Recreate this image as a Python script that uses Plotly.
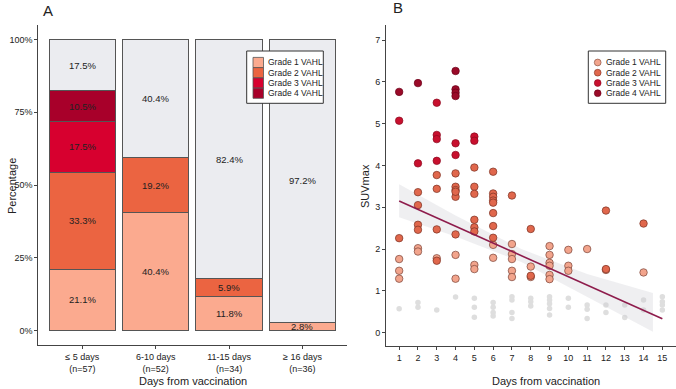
import plotly.graph_objects as go

# ---------------- Panel A data ----------------
categories = ["≤ 5 days<br>(n=57)", "6-10 days<br>(n=52)", "11-15 days<br>(n=34)", "≥ 16 days<br>(n=36)"]
grade1_pct = [21.1, 40.4, 11.8, 2.8]
grade2_pct = [33.3, 19.2, 5.9, 0.0]
grade3_pct = [17.5, 0.0, 0.0, 0.0]
grade4_pct = [10.5, 0.0, 0.0, 0.0]
none_pct = [17.5, 40.4, 82.4, 97.2]
pct_ticks = [0, 25, 50, 75, 100]
pct_labels = ["0%", "25%", "50%", "75%", "100%"]
legend_names = ["Grade 1 VAHL", "Grade 2 VAHL", "Grade 3 VAHL", "Grade 4 VAHL"]

# ---------------- Panel B data ----------------
g1_x = [1, 1, 1, 2, 2, 3, 4, 4, 5, 5, 6, 6, 7, 7, 7, 7, 7, 8, 8, 9, 9, 9, 9, 9, 9, 10, 10, 10, 11, 12, 14]
g1_y = [1.76, 1.48, 1.29, 2.02, 1.94, 1.78, 1.86, 1.29, 1.62, 1.52, 2.10, 1.79, 2.12, 1.88, 1.76, 1.48, 1.33,
        1.58, 1.33, 2.07, 1.86, 1.67, 1.60, 1.38, 1.28, 1.98, 1.60, 1.48, 2.00, 1.50, 1.44]
g2_x = [1, 2, 2, 2, 2, 3, 3, 3, 3, 4, 4, 4, 4, 4, 4, 5, 5, 5, 5, 5, 5, 6, 6, 6, 6, 6, 6, 6, 6, 7, 8, 8, 12, 12, 14]
g2_y = [2.26, 3.36, 3.05, 2.58, 2.46, 3.77, 3.44, 2.47, 1.72, 3.81, 3.49, 3.41, 3.25, 2.35, 3.37, 3.95, 3.49, 3.32,
        2.70, 2.52, 2.42, 3.85, 3.33, 3.25, 3.16, 3.11, 2.86, 2.55, 2.27, 3.28, 2.48, 1.36, 2.92, 1.52, 2.61]
g3_x = [1, 2, 3, 3, 3, 3, 4, 4, 5, 5]
g3_y = [5.07, 4.05, 5.50, 4.73, 4.63, 4.11, 4.53, 4.25, 4.69, 4.59]
g4_x = [1, 2, 4, 4, 4, 4]
g4_y = [5.76, 5.97, 6.26, 5.82, 5.74, 5.66]
none_x = [1, 2, 2, 3, 4, 5, 5, 5, 6, 6, 6, 6, 7, 7, 7, 7, 8, 8, 8, 9, 9, 9, 9, 9, 10, 10, 11, 11, 11,
          12, 12, 13, 13, 14, 14, 15, 15, 15, 15]
none_y = [0.57, 0.72, 0.61, 0.54, 0.85, 0.82, 0.61, 0.37, 0.72, 0.61, 0.48, 0.40, 0.86, 0.78, 0.48, 0.34,
          0.82, 0.74, 0.64, 0.86, 0.78, 0.69, 0.58, 0.42, 0.82, 0.61, 0.66, 0.56, 0.34, 0.66, 0.48, 0.66,
          0.36, 0.78, 0.54, 0.86, 0.74, 0.66, 0.54]
fit_x = [1, 15]
fit_y = [3.15, 0.33]
band_x = [1, 4, 7.5, 11, 14.5]
band_upper = [3.55, 2.80, 2.00, 1.40, 0.95]
band_lower = [2.76, 2.30, 1.69, 0.86, 0.02]
day_ticks = list(range(1, 16))
suv_ticks = list(range(0, 8))

# ---------------- styles ----------------
bar_cols = ["#FBAA8F", "#EB6441", "#D7002F", "#A8002A"]
none_col = "#EBECF0"
pt_cols = ["#F2A48C", "#E0674C", "#C8102E", "#9A0A28"]
pt_line = ["#7A4438", "#7A3022", "#8A0A20", "#6A0018"]
FONT = "Liberation Sans, Arial, sans-serif"
TXT = "#222222"
W, H = 676, 389
def fx(px): return px / W
def fy(py): return (H - py) / H

fig = go.Figure()

# Panel A stacked bars
series = [grade1_pct, grade2_pct, grade3_pct, grade4_pct]
for i, vals in enumerate(series):
    fig.add_trace(go.Bar(x=categories, y=vals, name=legend_names[i], showlegend=False,
                         marker=dict(color=bar_cols[i], line=dict(color="#555555", width=1)),
                         xaxis="x", yaxis="y", hoverinfo="skip"))
fig.add_trace(go.Bar(x=categories, y=none_pct, name="None", showlegend=False,
                     marker=dict(color=none_col, line=dict(color="#555555", width=1)),
                     xaxis="x", yaxis="y", hoverinfo="skip"))

annotations = []
shapes = []
all_series = series + [none_pct]
for ci, cat in enumerate(categories):
    base = 0.0
    for vals in all_series:
        v = vals[ci]
        if v > 0:
            annotations.append(dict(x=cat, y=base + v / 2, xref="x", yref="y", text=f"{v:.1f}%",
                                    xanchor="center", yanchor="middle",
                                    showarrow=False, font=dict(family=FONT, size=9.5, color=TXT)))
        base += v

# Panel B
fig.add_trace(go.Scatter(x=none_x, y=none_y, mode="markers", showlegend=False,
                         marker=dict(color="#DEDEDE", size=5.5), xaxis="x2", yaxis="y2", hoverinfo="skip"))
fig.add_trace(go.Scatter(x=band_x, y=band_upper, mode="lines", line=dict(width=0), showlegend=False,
                         xaxis="x2", yaxis="y2", hoverinfo="skip"))
fig.add_trace(go.Scatter(x=band_x, y=band_lower, mode="lines", line=dict(width=0), fill="tonexty",
                         fillcolor="rgba(205,205,212,0.32)", showlegend=False,
                         xaxis="x2", yaxis="y2", hoverinfo="skip"))
for i, (xs, ys) in enumerate([(g1_x, g1_y), (g2_x, g2_y), (g3_x, g3_y), (g4_x, g4_y)]):
    fig.add_trace(go.Scatter(x=xs, y=ys, mode="markers", name=legend_names[i], showlegend=False,
                             marker=dict(color=pt_cols[i], size=7.5, line=dict(color=pt_line[i], width=0.7)),
                             xaxis="x2", yaxis="y2", hoverinfo="skip"))
fig.add_trace(go.Scatter(x=fit_x, y=fit_y, mode="lines", showlegend=False,
                         line=dict(color="#8E1C4C", width=1.6), xaxis="x2", yaxis="y2", hoverinfo="skip"))

# ---------------- legends (drawn as layout boxes) ----------------
row_y = [62.5, 72.7, 83.0, 93.2]
shapes.append(dict(type="rect", xref="paper", yref="paper", x0=fx(246.7), x1=fx(323.3), y0=fy(103.3), y1=fy(51),
                   line=dict(color="#333333", width=1), fillcolor="white", layer="above"))
for i, name in enumerate(legend_names):
    shapes.append(dict(type="rect", xref="paper", yref="paper", x0=fx(253), x1=fx(263.5),
                       y0=fy(row_y[i] + 5.1), y1=fy(row_y[i] - 5.1),
                       line=dict(color="#555555", width=0.8), fillcolor=bar_cols[i], layer="above"))
    annotations.append(dict(text=name, x=fx(265.5), y=fy(row_y[i]), xref="paper", yref="paper",
                            xanchor="left", yanchor="middle", showarrow=False,
                            font=dict(family=FONT, size=8.5, color=TXT)))
shapes.append(dict(type="rect", xref="paper", yref="paper", x0=fx(588.3), x1=fx(665.7), y0=fy(103.3), y1=fy(51),
                   line=dict(color="#333333", width=1), fillcolor="white", layer="above"))
for i, name in enumerate(legend_names):
    r = 3.4
    shapes.append(dict(type="circle", xref="paper", yref="paper", x0=fx(597.7 - r), x1=fx(597.7 + r),
                       y0=fy(row_y[i] + r), y1=fy(row_y[i] - r),
                       line=dict(color=pt_line[i], width=0.6), fillcolor=pt_cols[i], layer="above"))
    annotations.append(dict(text=name, x=fx(603.5), y=fy(row_y[i]), xref="paper", yref="paper",
                            xanchor="left", yanchor="middle", showarrow=False,
                            font=dict(family=FONT, size=8.5, color=TXT)))

axis_common = dict(showline=True, linecolor="#444444", linewidth=1, ticks="outside", ticklen=3,
                   tickcolor="#444444", tickwidth=1, showgrid=False, zeroline=False, automargin=False,
                   tickfont=dict(family=FONT, size=9, color=TXT))

def title_ann(text, px, py, angle=0, size=11):
    return dict(text=text, x=fx(px), y=fy(py), xref="paper", yref="paper", showarrow=False,
                xanchor="center", yanchor="middle", textangle=angle,
                font=dict(family=FONT, size=size, color=TXT))

annotations += [
    title_ann("A", 48, 10, size=15),
    title_ann("B", 398, 8, size=15),
    title_ann("Percentage", 12, 186, angle=-90),
    title_ann("SUVmax", 365, 186, angle=-90),
    title_ann("Days from vaccination", 193, 381),
    title_ann("Days from vaccination", 546, 381),
]

fig.update_layout(
    width=W, height=H, margin=dict(l=0, r=0, t=0, b=0),
    paper_bgcolor="white", plot_bgcolor="white",
    barmode="stack", bargap=0.094, showlegend=False,
    xaxis=dict(domain=[fx(38.3), fx(346.5)], range=[-0.6, 3.6], anchor="y", **axis_common),
    yaxis=dict(domain=[fy(345), fy(25)], range=[-5, 105], anchor="x", tickvals=pct_ticks,
               ticktext=pct_labels, **axis_common),
    xaxis2=dict(domain=[fx(386), fx(675.5)], range=[0.3, 15.7], anchor="y2", tickvals=day_ticks, **axis_common),
    yaxis2=dict(domain=[fy(346), fy(25)], range=[-0.32, 7.36], anchor="x2", tickvals=suv_ticks, **axis_common),
    annotations=annotations,
    shapes=shapes,
)

fig.write_html(
    "out.html",
    config={"displayModeBar": False},
    post_script="document.body.style.margin='0';document.body.style.padding='0';"
                "document.body.style.overflow='hidden';document.documentElement.style.overflow='hidden';",
)
